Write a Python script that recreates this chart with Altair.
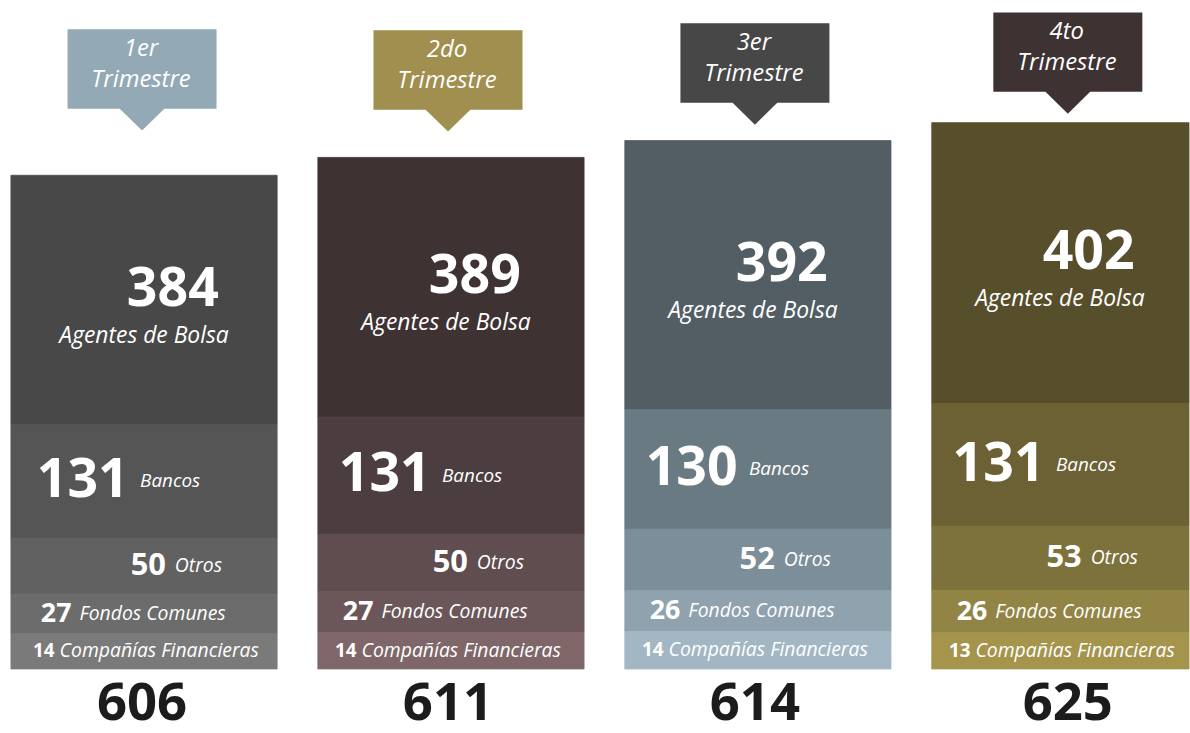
import altair as alt
import pandas as pd

# ---------------- data ----------------
quarters = ["1er Trimestre", "2do Trimestre", "3er Trimestre", "4to Trimestre"]
quarter_line1 = ["1er", "2do", "3er", "4to"]
quarter_line2 = ["Trimestre", "Trimestre", "Trimestre", "Trimestre"]
segments = ["Agentes de Bolsa", "Bancos", "Otros", "Fondos Comunes", "Compañías Financieras"]
agentes = [384, 389, 392, 402]
bancos = [131, 131, 130, 131]
otros = [50, 50, 52, 53]
fondos = [27, 27, 26, 26]
companias = [14, 14, 14, 13]
totals = [606, 611, 614, 625]

# ---------------- styles ----------------
bar_colors = [
    ["#484848", "#555555", "#616161", "#6c6c6c", "#7a7a7a"],
    ["#3e3233", "#4c3e40", "#5f4d4f", "#6b5759", "#7f6769"],
    ["#525e64", "#6a7a83", "#7c8e99", "#8fa2ae", "#a2b7c3"],
    ["#574f2b", "#6b6134", "#7e723c", "#928444", "#a5944c"],
]
callout_colors = ["#93a9b5", "#a08f4f", "#474747", "#3e3233"]
FONT = "Open Sans"
EXP = 0.7
BOTTOM = 671
panel_w = [268, 268, 268, 259]
col_top = [174, 156, 139, 121]
tip_gap = [45, 26, 16, 9]
tip_x = [132, 131, 131, 137]
shift = [5, 0, 0, 0]
U = 75.0


def f(v):
    return f"{v / U:.4f}"


def callout_path(tx, g):
    return (
        f"M{f(tx - 75)},{f(-(g + 102))}H{f(tx + 75)}V{f(-(g + 22))}"
        f"H{f(tx + 22.5)}L{f(tx)},{f(-g)}L{f(tx - 22.5)},{f(-(g + 22))}H{f(tx - 75)}Z"
    )


def panel(i):
    vals = [agentes[i], bancos[i], otros[i], fondos[i], companias[i]]
    df = pd.DataFrame({
        "q": [quarters[i]] * 5,
        "segment": segments,
        "value": vals,
        "order": [4, 3, 2, 1, 0],
    })
    dtop = pd.DataFrame({
        "q": [quarters[i]],
        "total": [totals[i]],
        "l1": [quarter_line1[i]],
        "l2": [quarter_line2[i]],
        "base": [0],
    })
    yscale = alt.Scale(type="pow", exponent=EXP, domain=[0, totals[i]],
                       range=[BOTTOM, col_top[i]], nice=False, zero=True)
    xscale = alt.Scale(domain=[quarters[i]], paddingInner=0, paddingOuter=0)
    x_bar = alt.X("q:N", axis=None, scale=xscale)
    x_left = alt.X("q:N", axis=None, scale=xscale, bandPosition=0)

    base = alt.Chart(df).transform_stack(
        stack="value", groupby=["q"],
        sort=[alt.SortField("order", order="ascending")], as_=["y0", "y1"]
    ).transform_calculate(
        mid=f"pow((pow(datum.y0,{EXP})+pow(datum.y1,{EXP}))/2,{1 / EXP})"
    )

    cscale = alt.Scale(domain=segments, range=bar_colors[i])
    bars = base.mark_bar(strokeWidth=0.8).encode(
        x=x_bar,
        y=alt.Y("y0:Q", scale=yscale, axis=None),
        y2="y1:Q",
        color=alt.Color("segment:N", scale=cscale, legend=None),
        stroke=alt.Stroke("segment:N", scale=cscale, legend=None),
    )

    s = shift[i]

    def seg_text(seg, field, dx, dy, size, align, weight, style):
        return base.transform_filter(alt.datum.segment == seg).mark_text(
            dx=dx, dy=dy, fontSize=size, align=align, baseline="middle",
            font=FONT, fontWeight=weight, fontStyle=style, color="white"
        ).encode(x=x_left, y=alt.Y("mid:Q", scale=yscale, axis=None), text=field)

    texts = [
        seg_text(segments[0], "value:Q", 158 + s, -10, 54, "center", "bold", "normal"),
        seg_text(segments[0], "segment:N", 129 + s, 36, 23, "center", "normal", "italic"),
        seg_text(segments[1], "value:Q", 21 + s, 0, 54, "left", "bold", "normal"),
        seg_text(segments[1], "segment:N", 125 + s, 0, 19, "left", "normal", "italic"),
        seg_text(segments[2], "value:Q", 151 + s, 0, 31, "right", "bold", "normal"),
        seg_text(segments[2], "segment:N", 160 + s, 0, 19.5, "left", "normal", "italic"),
        seg_text(segments[3], "value:Q", 56 + s, 0, 27, "right", "bold", "normal"),
        seg_text(segments[3], "segment:N", 64 + s, 0, 19.5, "left", "normal", "italic"),
        seg_text(segments[4], "value:Q", 39 + s, 0, 19, "right", "bold", "normal"),
        seg_text(segments[4], "segment:N", 44 + s, 0, 19.5, "left", "normal", "italic"),
    ]

    top = alt.Chart(dtop)
    g = tip_gap[i]
    tx = tip_x[i]
    callout = top.mark_point(
        shape=callout_path(tx, g), size=U * U * 4, filled=True, opacity=1,
        color=callout_colors[i], strokeWidth=0
    ).encode(x=x_left, y=alt.Y("total:Q", scale=yscale, axis=None))
    ct1 = top.mark_text(
        dx=tx - 1, dy=-(g + 82), fontSize=24, font=FONT, fontStyle="italic",
        color="white", align="center", baseline="middle"
    ).encode(x=x_left, y=alt.Y("total:Q", scale=yscale, axis=None), text="l1:N")
    ct2 = top.mark_text(
        dx=tx - 1, dy=-(g + 51), fontSize=24, font=FONT, fontStyle="italic",
        color="white", align="center", baseline="middle"
    ).encode(x=x_left, y=alt.Y("total:Q", scale=yscale, axis=None), text="l2:N")
    tot = top.mark_text(
        dx=tx, dy=35, fontSize=53, font=FONT, fontWeight="bold",
        color="#1c1c1c", align="center", baseline="middle"
    ).encode(x=x_left, y=alt.Y("base:Q", scale=yscale, axis=None), text="total:Q")

    return alt.layer(bars, *texts, callout, ct1, ct2, tot).properties(
        width=panel_w[i], height=733
    )


chart = alt.hconcat(*[panel(i) for i in range(4)], spacing=39).resolve_scale(
    color="independent", stroke="independent", y="independent", x="independent"
).properties(
    padding={"left": 10, "top": 0, "right": 0, "bottom": 0},
    background="white",
).configure_view(stroke=None)

chart.save("out.html", embed_options={"renderer": "svg", "actions": False})
